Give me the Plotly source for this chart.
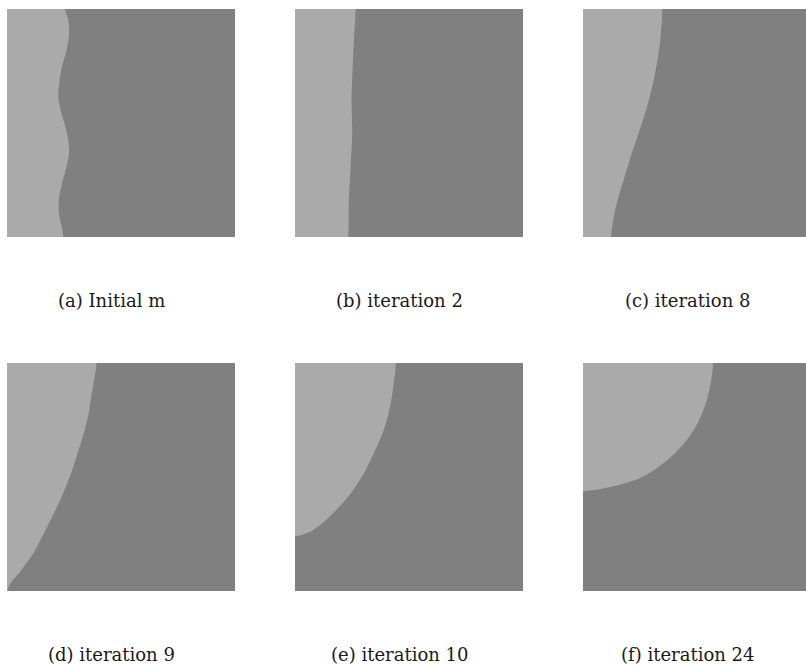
import plotly.graph_objects as go

W, H = 806, 665

# Interface between the two phases, per panel.
# x: horizontal position (0 = left edge, 1 = right edge)
# y: vertical position (0 = top edge, 1 = bottom edge)
captions = ["(a) Initial m", "(b) iteration 2", "(c) iteration 8",
            "(d) iteration 9", "(e) iteration 10", "(f) iteration 24"]

a_x = [0.254, 0.269, 0.272, 0.262, 0.241, 0.229, 0.225, 0.235, 0.256, 0.269,
       0.272, 0.259, 0.240, 0.227, 0.228, 0.240, 0.247]
a_y = [0.0, 0.048, 0.107, 0.18, 0.253, 0.326, 0.385, 0.443, 0.516, 0.575,
       0.633, 0.70, 0.77, 0.838, 0.896, 0.955, 1.0]

b_x = [0.266, 0.260, 0.253, 0.248, 0.251, 0.244, 0.236, 0.234]
b_y = [0.0, 0.107, 0.253, 0.399, 0.545, 0.691, 0.838, 1.0]

c_x = [0.348, 0.346, 0.339, 0.327, 0.310, 0.289, 0.263, 0.234, 0.205, 0.178,
       0.152, 0.135, 0.123]
c_y = [0.0, 0.048, 0.136, 0.224, 0.311, 0.399, 0.487, 0.575, 0.662, 0.75,
       0.838, 0.911, 1.0]

d_x = [0.393, 0.386, 0.371, 0.357, 0.335, 0.308, 0.279, 0.244, 0.203, 0.159,
       0.113, 0.060, 0.006]
d_y = [0.0, 0.051, 0.139, 0.226, 0.314, 0.401, 0.489, 0.577, 0.664, 0.752,
       0.839, 0.912, 0.985]

e_x = [0.442, 0.438, 0.426, 0.409, 0.382, 0.343, 0.299, 0.241, 0.190, 0.131,
       0.073, 0.030, 0.0]
e_y = [0.0, 0.051, 0.139, 0.226, 0.314, 0.401, 0.489, 0.577, 0.635, 0.693,
       0.737, 0.754, 0.759]

f_x = [0.570, 0.566, 0.556, 0.537, 0.507, 0.463, 0.398, 0.325, 0.251, 0.164,
       0.091, 0.040, 0.0]
f_y = [0.0, 0.051, 0.109, 0.182, 0.255, 0.328, 0.401, 0.460, 0.504, 0.533,
       0.550, 0.558, 0.562]

curves = [(a_x, a_y), (b_x, b_y), (c_x, c_y), (d_x, d_y), (e_x, e_y), (f_x, f_y)]

LIGHT = "#aaaaaa"
DARK = "#808080"

# panel placement in pixels (left, top) and side length
lefts = [7, 295, 583]
tops = [9, 363]
SIDE = 228
PAD = 0.3  # closing vertices sit outside the visible square


def region(bx, by):
    """Closed outline of the light phase: left edge plus the interface."""
    px = [-PAD, bx[0]] + list(bx)
    py = [-PAD, -PAD] + list(by)
    if by[-1] >= 0.98:          # interface reaches the bottom edge
        px += [bx[-1] - 0.02, -PAD]
        py += [1 + PAD, 1 + PAD]
    else:                        # interface ends on the left edge
        px += [-PAD]
        py += [by[-1]]
    px.append(-PAD)
    py.append(-PAD)
    return px, py


fig = go.Figure()
annotations = []
for i, ((bx, by), cap) in enumerate(zip(curves, captions)):
    row, col = divmod(i, 3)
    left, top = lefts[col], tops[row]
    right = min(left + SIDE, W)
    xr = (right - left) / SIDE
    n = i + 1
    sfx = "" if n == 1 else str(n)
    fig.update_layout(**{
        f"xaxis{sfx}": dict(domain=[left / W, right / W], range=[0, xr],
                            visible=False, fixedrange=True, anchor=f"y{sfx}"),
        f"yaxis{sfx}": dict(domain=[1 - (top + SIDE) / H, 1 - top / H],
                            range=[1, 0], visible=False, fixedrange=True,
                            anchor=f"x{sfx}"),
    })
    px, py = region(bx, by)
    fig.add_trace(go.Scatter(
        x=px, y=py, mode="lines", fill="toself", fillcolor=LIGHT,
        line=dict(width=0, color=LIGHT, shape="spline", smoothing=0.8),
        hoverinfo="skip", showlegend=False,
        xaxis=f"x{sfx}", yaxis=f"y{sfx}",
    ))
    annotations.append(dict(
        text=cap, x=(left + 104) / W, y=1 - (top + 291) / H,
        xref="paper", yref="paper", xanchor="center", yanchor="middle",
        showarrow=False,
        font=dict(family="DejaVu Serif", size=18, color="#1a1a1a"),
    ))

fig.update_layout(
    width=W, height=H, margin=dict(l=0, r=0, t=0, b=0),
    paper_bgcolor="white", plot_bgcolor=DARK,
    annotations=annotations, showlegend=False,
)

fig.write_html("out.html")
